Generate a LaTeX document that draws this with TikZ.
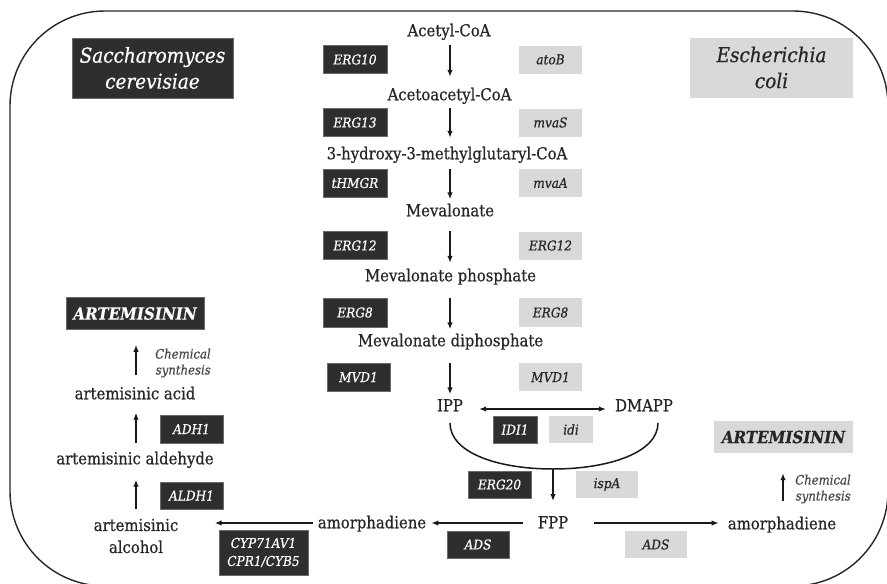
\documentclass[tikz,border=0pt]{standalone}
\usepackage{fontspec}
\setmainfont{DejaVu Serif Condensed}[FakeBold=0.6]
\usetikzlibrary{arrows.meta,calc}
\definecolor{dk}{HTML}{2E2E2E}
\definecolor{dkb}{HTML}{6A6A6A}
\definecolor{lt}{HTML}{D9D9D9}
\definecolor{txt}{HTML}{262626}
\definecolor{chem}{HTML}{4A4A4A}
\begin{document}
\begin{tikzpicture}[x=1pt,y=-1pt,
  met/.style={font=\fontsize{16.5}{22}\selectfont, text=txt, inner sep=0pt, text height=12pt, text depth=3.5pt},
  gene/.style={inner sep=0pt, minimum width=63pt, minimum height=28pt, font=\fontsize{13.5}{15}\selectfont\itshape},
  gd/.style={gene, fill=dk, draw=dkb, line width=0.6pt, text=white},
  gl/.style={gene, fill=lt, text=txt},
  title/.style={inner sep=0pt, minimum width=161pt, minimum height=60pt, align=center, font=\fontsize{20.5}{26}\selectfont\itshape},
  art/.style={inner sep=0pt, minimum width=138pt, minimum height=32pt, font=\fontsize{16.8}{18}\selectfont\bfseries\itshape},
  chemtxt/.style={align=right, text=chem, inner sep=0pt, font=\fontsize{13}{16}\selectfont\itshape},
  arr/.style={-{Latex[length=7pt,width=5.5pt]}, line width=1.5pt, draw=black!90},
  darr/.style={{Latex[length=7pt,width=5.5pt]}-{Latex[length=7pt,width=5.5pt]}, line width=1.5pt, draw=black!90},
  frame/.style={draw=black!85, line width=1.4pt, rounded corners=95pt}]
\useasboundingbox (0,0) rectangle (887,584);
\clip (0,0) rectangle (887,584);
\draw[frame] (10,11) rectangle (888,586);

% titles
\node[title, fill=dk, draw=dkb, line width=0.6pt, text=white] (sc) at (152.5,68) {Saccharomyces\\cerevisiae};
\node[title, fill=lt, minimum width=163pt, text=txt] (ec) at (771.5,67.5) {Escherichia\\coli};

% central metabolites
\node[met] (acetyl) at (449,32) {Acetyl-CoA};
\node[met] (acac) at (449.5,96) {Acetoacetyl-CoA};
\node[met] (hmg) at (447,155) {3-hydroxy-3-methylglutaryl-CoA};
\node[met] (mev) at (450,212) {Mevalonate};
\node[met] (mevp) at (450.5,277) {Mevalonate phosphate};
\node[met] (mevpp) at (450.5,342) {Mevalonate diphosphate};
\node[met] (ipp) at (450,407) {IPP};
\node[met] (dmapp) at (644,407) {DMAPP};
\node[met] (fpp) at (553,524) {FPP};
\node[met] (amL) at (372,524) {amorphadiene};
\node[met] (amR) at (782,525) {amorphadiene};
\node[met] (acid) at (135,395) {artemisinic acid};
\node[met] (ald) at (135,460) {artemisinic aldehyde};
\node[font=\fontsize{16.5}{22}\selectfont, text=txt, inner sep=0pt, align=center] (alc) at (136,536) {artemisinic\\alcohol};

% genes (yeast)
\node[gd, minimum width=64pt] (erg10) at (355,59.5) {ERG10};
\node[gd, minimum width=64pt] (erg13) at (355,122.5) {ERG13};
\node[gd, minimum width=64pt] (thmgr) at (355,183) {tHMGR};
\node[gd, minimum width=64pt] (erg12) at (355,245.5) {ERG12};
\node[gd, minimum width=64pt, minimum height=29pt] (erg8) at (355,312.5) {ERG8};
\node[gd] (mvd1) at (358.5,377) {MVD1};
\node[gd, minimum width=44pt, minimum height=27pt] (idi1) at (515,429.5) {IDI1};
\node[gd, minimum height=27pt] (erg20) at (499.5,484.5) {ERG20};
\node[gd, minimum width=62pt, minimum height=27pt] (adsY) at (478,544.5) {ADS};
\node[gd, minimum width=89pt, minimum height=45pt, align=center, font=\fontsize{13.5}{18}\selectfont\itshape] (cyp) at (263.5,552.5) {CYP71AV1\\CPR1/CYB5};
\node[gd] (adh1) at (191.5,429) {ADH1};
\node[gd, minimum height=27pt] (aldh1) at (191.5,495.5) {ALDH1};
\node[art, fill=dk, draw=dkb, line width=0.6pt, text=white] (artL) at (135,313.5) {ARTEMISININ};

% genes (E. coli)
\node[gl] (atob) at (550.5,59.5) {atoB};
\node[gl] (mvas) at (550.5,122.5) {mvaS};
\node[gl] (mvaa) at (550.5,183) {mvaA};
\node[gl] (erg12e) at (550.5,245.5) {ERG12};
\node[gl, minimum height=29pt] (erg8e) at (550.5,312.5) {ERG8};
\node[gl] (mvd1e) at (550.5,377) {MVD1};
\node[gl, minimum width=44pt, minimum height=27pt] (idi) at (571,429.5) {idi};
\node[gl, minimum width=62pt, minimum height=27pt] (ispa) at (607,484.5) {ispA};
\node[gl, minimum width=62pt, minimum height=27pt] (adsE) at (656,544.5) {ADS};
\node[art, fill=lt, minimum width=139pt, text=txt] (artR) at (783.5,437) {ARTEMISININ};

\node[chemtxt] (chemL) at (183,363) {Chemical\\synthesis};
\node[chemtxt] (chemR) at (823,489) {Chemical\\synthesis};

% central arrows
\draw[arr] (mev |- erg10.north) -- ([yshift=-3pt]mev |- erg10.south);
\draw[arr] (mev |- erg13.north) -- ([yshift=-1pt]mev |- erg13.south);
\draw[arr] (mev |- thmgr.north) -- ([yshift=-2pt]mev |- thmgr.south);
\draw[arr] (mev |- erg12.north) -- ([yshift=-3pt]mev |- erg12.south);
\draw[arr] (mev |- erg8.north) -- ([yshift=-2pt]mev |- erg8.south);
\draw[arr] (ipp |- mvd1.north) -- ([yshift=-3pt]ipp |- mvd1.south);
\draw[darr, shorten <=16pt, shorten >=9pt] ([yshift=-2pt]ipp.east) -- ([yshift=-2pt]dmapp.east -| dmapp.west);

\coordinate (join) at (553,469);
\draw[line width=1.5pt, draw=black!90] ([yshift=-8pt]ipp.south) .. controls +(0,30) and +(-55,0) .. (join)
  .. controls +(55,0) and +(0,30) .. ([yshift=-8pt]dmapp.south -| 658,0);
\draw[arr, shorten >=15pt] (join) -- (fpp.north);

\draw[arr, shorten <=15pt, shorten >=5pt] ([yshift=1pt]fpp.west) -- ([yshift=1pt]amL.east);
\draw[arr, shorten <=5pt] ([yshift=1pt]amL.west) -- ([yshift=1pt,xshift=-4pt]amL.west -| cyp.west);
\draw[arr, shorten <=26pt, shorten >=9pt] ([yshift=1pt]fpp.east) -- ([yshift=2pt]amR.west);

% left column arrows
\draw[arr] (alc.north |- aldh1.south) -- ([yshift=2pt]alc.north |- aldh1.north);
\draw[arr] (alc.north |- adh1.south) -- ([yshift=2pt]alc.north |- adh1.north);
\draw[arr, shorten <=12pt, shorten >=15pt] ([xshift=1pt]acid.north) -- ([xshift=1pt]artL.south);
\draw[arr, shorten <=16pt, shorten >=20pt] ([xshift=1pt]amR.north) -- ([xshift=-0.5pt]artR.south);
\end{tikzpicture}
\end{document}
